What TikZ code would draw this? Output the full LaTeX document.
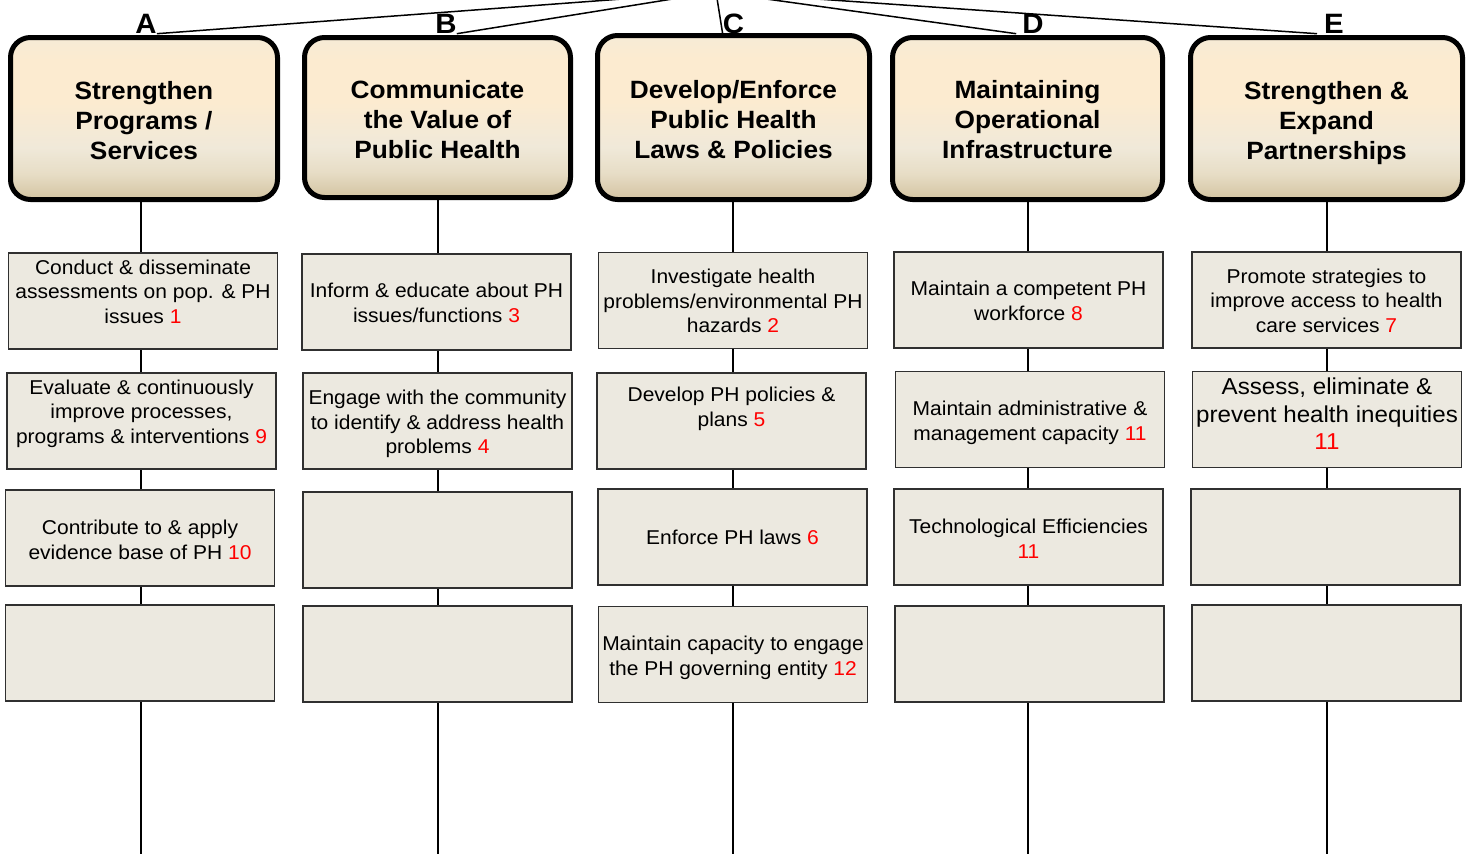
\documentclass[tikz,border=0pt]{standalone}
\usepackage{fontspec}
\setmainfont{Liberation Sans}[FakeStretch=1.05]
\usetikzlibrary{calc}
\definecolor{boxfill}{HTML}{ECE9E0}
\definecolor{boxline}{HTML}{303030}
\definecolor{hbot}{HTML}{D3C3A1}
\definecolor{hlow}{HTML}{E7DDC6}
\definecolor{hlight}{HTML}{F0E9D9}
\definecolor{hpeach}{HTML}{FCEBD0}
\definecolor{htop}{HTML}{F6EBD6}
\pgfdeclareverticalshading{hdrshade}{100bp}{color(0bp)=(hbot); color(25bp)=(hbot); color(33bp)=(hlow); color(41bp)=(hlight); color(55bp)=(hpeach); color(68bp)=(hpeach); color(75bp)=(htop); color(100bp)=(htop)}
\newcommand{\bodyfont}{\fontsize{20}{24.5}\selectfont}
\newcommand{\bigbodyfont}{\fontsize{23}{27.5}\selectfont}
\newcommand{\hdrfont}{\fontsize{25}{30}\selectfont\bfseries}
\newcommand{\lblfont}{\fontsize{28}{30}\selectfont\bfseries}
\newcommand{\rn}[1]{\textcolor{red}{#1}}
\newcommand{\Sx}{\strut}
\begin{document}
\begin{tikzpicture}[x=1pt,y=-1pt,
  hdrbox/.style={draw=black, line width=5pt, rounded corners=20pt, shading=hdrshade, inner sep=0pt},
  hdrtxt/.style={align=center, font=\hdrfont, inner sep=0pt},
  lbl/.style={font=\lblfont, inner sep=0pt, anchor=base},
  sbox/.style={draw=boxline, fill=boxfill, line width=1.3pt, minimum width=269pt, minimum height=96pt, inner sep=0pt},
  btxt/.style={align=center, font=\bodyfont, inner sep=0pt},
  vline/.style={draw=black, line width=2pt},
  tline/.style={draw=black, line width=1.5pt}]
\useasboundingbox (0,0) rectangle (1472,854);
\fill[white] (0,0) rectangle (1472,854);

% header boxes
\node[hdrbox, minimum width=267pt, minimum height=162pt] (hA) at (144,118.5) {};
\node[hdrbox, minimum width=266pt, minimum height=160pt] (hB) at (437.5,117.5) {};
\node[hdrbox, minimum width=272pt, minimum height=164pt] (hC) at (733.5,117.5) {};
\node[hdrbox, minimum width=270pt, minimum height=162pt] (hD) at (1027.5,118.5) {};
\node[hdrbox, minimum width=272pt, minimum height=162pt] (hE) at (1326.5,118.5) {};

\node[hdrtxt] (thA) at (144,123) {\Sx Strengthen\\\Sx Programs /\\\Sx Services};
\node[hdrtxt] (thB) at (437.5,122.5) {\Sx Communicate\\\Sx the Value of\\\Sx Public Health};
\node[hdrtxt] (thC) at (733.5,122) {\Sx Develop/Enforce\\\Sx Public Health\\\Sx Laws \& Policies};
\node[hdrtxt] (thD) at (1027.5,122.5) {\Sx Maintaining\\\Sx Operational\\\Sx Infrastructure};
\node[hdrtxt] (thE) at (1326.5,123) {\Sx Strengthen \&\\\Sx Expand\\\Sx Partnerships};

% letter labels
\node[lbl] (lA) at (146,33.5) {A};
\node[lbl] (lB) at (446,33.5) {B};
\node[lbl] (lC) at (733.5,33.5) {C};
\node[lbl] (lD) at (1033,33.5) {D};
\node[lbl] (lE) at (1334,33.5) {E};

% top connectors
\coordinate (apex) at (716,-8);
\draw[tline] (apex) -- (lA.south east);
\draw[tline] (apex) -- (lB.south east);
\draw[tline] (apex) -- (lC.south west);
\draw[tline] (apex) -- ($(lD.south west)+(-6,0)$);
\draw[tline] (apex) -- ($(lE.south west)+(-7,0)$);

% vertical connectors
\coordinate (botA) at (141,854);
\coordinate (botB) at (438,854);
\coordinate (botC) at (733,854);
\coordinate (botD) at (1028,854);
\coordinate (botE) at (1327,854);
\draw[vline] (hA.south -| botA) -- (botA);
\draw[vline] (hB.south -| botB) -- (botB);
\draw[vline] (hC.south -| botC) -- (botC);
\draw[vline] (hD.south -| botD) -- (botD);
\draw[vline] (hE.south -| botE) -- (botE);

% column A
\node[sbox] (a1) at (143,301) {};
\node[sbox] (a2) at (141.5,421) {};
\node[sbox] (a3) at (140,538) {};
\node[sbox] (a4) at (140,653) {};
% column B
\node[sbox] (b1) at (436.5,302) {};
\node[sbox] (b2) at (437.5,421) {};
\node[sbox] (b3) at (437.5,540) {};
\node[sbox] (b4) at (437.5,654) {};
% column C
\node[sbox] (c1) at (733,300.5) {};
\node[sbox] (c2) at (731.5,421) {};
\node[sbox] (c3) at (732.5,537) {};
\node[sbox] (c4) at (733,654.5) {};
% column D
\node[sbox] (d1) at (1028.5,300) {};
\node[sbox] (d2) at (1030,419.5) {};
\node[sbox] (d3) at (1028.5,537) {};
\node[sbox] (d4) at (1029.5,654) {};
% column E
\node[sbox] (e1) at (1326.5,300) {};
\node[sbox] (e2) at (1327,419.5) {};
\node[sbox] (e3) at (1325.5,537) {};
\node[sbox] (e4) at (1326.5,653) {};

% texts
\node[btxt] (ta1) at (143,294) {\Sx Conduct \& disseminate\\\Sx assessments on pop. \& PH\\\Sx issues \rn{1}};
\node[btxt] (ta2) at (141.5,414) {\Sx Evaluate \& continuously\\\Sx improve processes,\\\Sx programs \& interventions \rn{9}};
\node[btxt] (ta3) at (140,542) {\Sx Contribute to \& apply\\\Sx evidence base of PH \rn{10}};
\node[btxt] (tb1) at (436.5,305) {\Sx Inform \& educate about PH\\\Sx issues/functions \rn{3}};
\node[btxt] (tb2) at (437.5,424.5) {\Sx Engage with the community\\\Sx to identify \& address health\\\Sx problems \rn{4}};
\node[btxt] (tc1) at (733,303.5) {\Sx Investigate health\\\Sx problems/environmental PH\\\Sx hazards \rn{2}};
\node[btxt] (tc2) at (731.5,409) {\Sx Develop PH policies \&\\\Sx plans \rn{5}};
\node[btxt] (tc3) at (732.5,540) {\Sx Enforce PH laws \rn{6}};
\node[btxt] (tc4) at (733,658) {\Sx Maintain capacity to engage\\\Sx the PH governing entity \rn{12}};
\node[btxt] (td1) at (1028.5,303) {\Sx Maintain a competent PH\\\Sx workforce \rn{8}};
\node[btxt] (td2) at (1030,423) {\Sx Maintain administrative \&\\\Sx management capacity \rn{11}};
\node[btxt] (td3) at (1028.5,541) {\Sx Technological Efficiencies\\\Sx \rn{11}};
\node[btxt] (te1) at (1326.5,303) {\Sx Promote strategies to\\\Sx improve access to health\\\Sx care services \rn{7}};
\node[btxt, font=\bigbodyfont] (te2) at (1327,416.5) {\Sx Assess, eliminate \&\\\Sx prevent health inequities\\\Sx \rn{11}};
\end{tikzpicture}
\end{document}
